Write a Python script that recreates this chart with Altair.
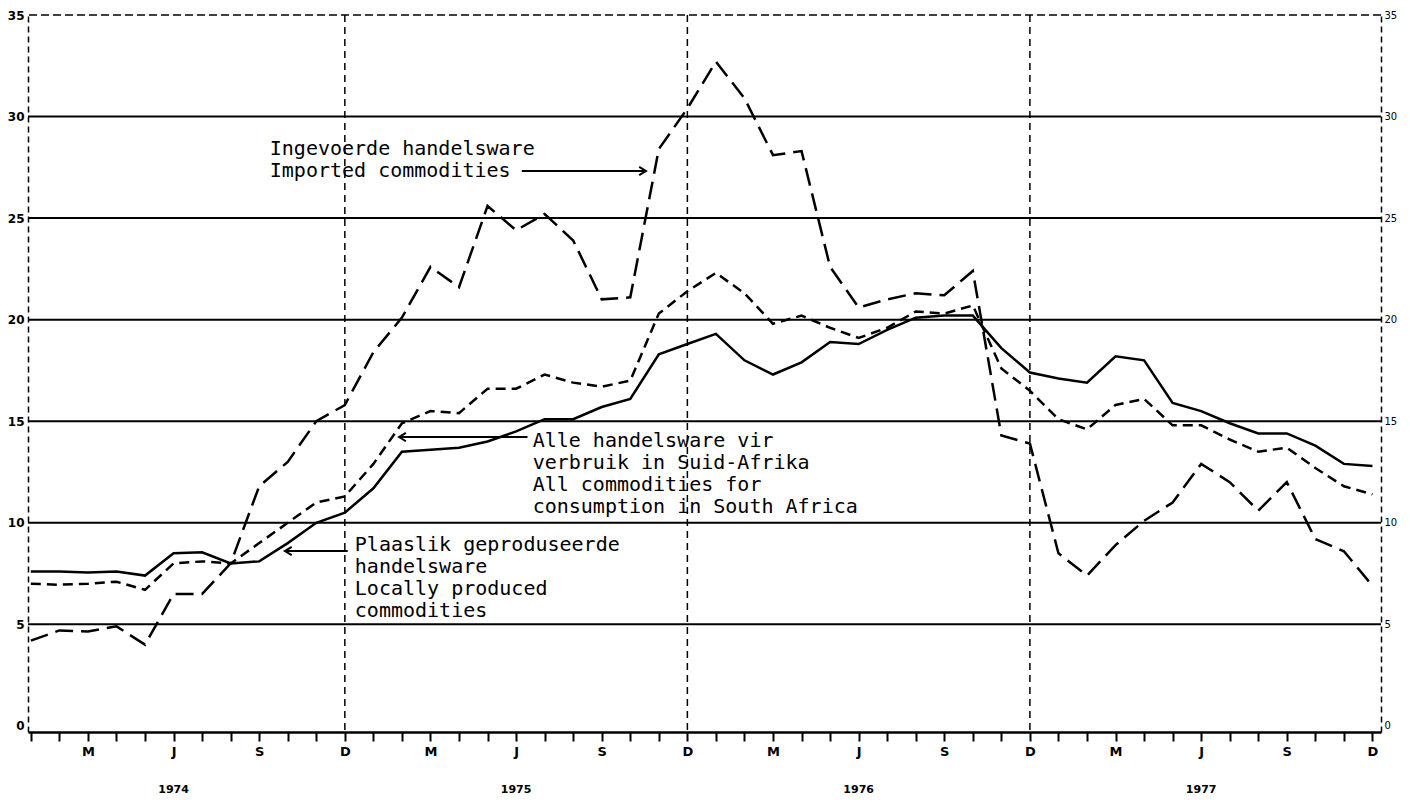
import altair as alt
import pandas as pd

# ---- data ----
months = list(range(48))  # Jan 1974 .. Dec 1977, monthly
local = [7.6, 7.6, 7.55, 7.6, 7.4, 8.5, 8.55, 8.0, 8.1, 9.0, 10.0, 10.5,
         11.7, 13.5, 13.6, 13.7, 14.0, 14.5, 15.1, 15.1, 15.7, 16.1, 18.3, 18.8,
         19.3, 18.0, 17.3, 17.9, 18.9, 18.8, 19.5, 20.1, 20.2, 20.2, 18.6, 17.4,
         17.1, 16.9, 18.2, 18.0, 15.9, 15.5, 14.9, 14.4, 14.4, 13.8, 12.9, 12.8]
allc = [7.0, 6.95, 7.0, 7.1, 6.7, 8.0, 8.1, 8.0, 9.0, 10.0, 11.0, 11.3,
        12.9, 14.9, 15.5, 15.4, 16.6, 16.6, 17.3, 16.9, 16.7, 17.0, 20.3, 21.4,
        22.3, 21.3, 19.8, 20.2, 19.6, 19.1, 19.6, 20.4, 20.3, 20.7, 17.6, 16.5,
        15.1, 14.6, 15.8, 16.1, 14.8, 14.8, 14.1, 13.5, 13.7, 12.7, 11.8, 11.4]
imported = [4.2, 4.7, 4.65, 4.9, 4.0, 6.5, 6.5, 8.0, 11.8, 13.0, 15.0, 15.8,
            18.4, 20.1, 22.6, 21.6, 25.6, 24.4, 25.2, 23.9, 21.0, 21.1, 28.4, 30.4,
            32.7, 30.9, 28.1, 28.3, 22.6, 20.6, 21.0, 21.3, 21.2, 22.4, 14.3, 13.9,
            8.5, 7.4, 8.9, 10.1, 11.0, 12.9, 12.0, 10.6, 12.0, 9.2, 8.6, 6.9]

years = ["1974", "1975", "1976", "1977"]
year_label_month = [5, 17, 29, 41]
year_boundaries = [11, 23, 35]
grid_values = [5, 10, 15, 20, 25, 30]
top_value = [35]
y_ticks = [0, 5, 10, 15, 20, 25, 30, 35]

# annotation texts (month-index / value coordinates)
ann_text = ["Ingevoerde handelsware", "Imported commodities",
            "Alle handelsware vir", "verbruik in Suid-Afrika",
            "All commodities for", "consumption in South Africa",
            "Plaaslik geproduseerde", "handelsware",
            "Locally produced", "commodities"]
ann_x = [8.37, 8.37, 17.58, 17.58, 17.58, 17.58, 11.35, 11.35, 11.35, 11.35]
ann_y = [28.12, 27.0, 13.72, 12.64, 11.56, 10.48, 8.62, 7.54, 6.46, 5.38]

arrow_x1 = [17.2, 17.4, 11.1]
arrow_x2 = [21.55, 12.9, 8.9]
arrow_y = [27.32, 14.22, 8.61]
arrow_dir = ["right", "left", "left"]

# ---- chart ----
W, H = 1353, 717
xs = alt.Scale(domain=[-0.1, 47.3], nice=False, zero=False)
ys = alt.Scale(domain=[-0.3, 35], nice=False, zero=False)

df = pd.DataFrame({"m": months, "local": local, "allc": allc, "imported": imported})

month_expr = ("datum.value % 12 == 2 ? 'M' : datum.value % 12 == 5 ? 'J' : "
              "datum.value % 12 == 8 ? 'S' : datum.value % 12 == 11 ? 'D' : ''")

x_axis = alt.Axis(values=months, labelExpr=month_expr, tickSize=9, tickWidth=2,
                  tickColor="black", domainColor="black", domainWidth=2.5,
                  labelFontSize=13, labelFontWeight="bold", labelFont="DejaVu Sans",
                  labelColor="black", labelPadding=4, labelOverlap=False,
                  labelFlush=False, grid=False, title=None)

left_axis = alt.Axis(values=y_ticks, orient="left", ticks=False, grid=False,
                     domainColor="black", domainDash=[6, 4], domainWidth=1.5,
                     labelFontSize=12, labelFontWeight="bold", labelFont="DejaVu Sans",
                     labelColor="black", labelPadding=4, labelFlush=False, title=None)
right_axis = alt.Axis(values=y_ticks, orient="right", ticks=False, grid=False,
                      domainColor="black", domainDash=[6, 4], domainWidth=1.5,
                      labelFontSize=10, labelFont="DejaVu Sans",
                      labelColor="black", labelPadding=3, labelFlush=False, title=None)


def X(field):
    return alt.X(field, scale=xs, axis=x_axis)


base = alt.Chart(df)

line_local = base.mark_line(color="black", strokeWidth=2.5).encode(
    x=X("m:Q"), y=alt.Y("local:Q", scale=ys, axis=left_axis))
line_all = base.mark_line(color="black", strokeWidth=2.5, strokeDash=[10, 6]).encode(
    x=X("m:Q"), y=alt.Y("allc:Q", scale=ys, axis=None))
line_imp = base.mark_line(color="black", strokeWidth=2.5, strokeDash=[18, 8]).encode(
    x=X("m:Q"), y=alt.Y("imported:Q", scale=ys, axis=None))

grid = alt.Chart(pd.DataFrame({"g": grid_values})).mark_rule(
    color="black", strokeWidth=2).encode(y=alt.Y("g:Q", scale=ys, axis=right_axis))
top = alt.Chart(pd.DataFrame({"g": top_value})).mark_rule(
    color="black", strokeWidth=1.5, strokeDash=[8, 4]).encode(
    y=alt.Y("g:Q", scale=ys, axis=None))
yearlines = alt.Chart(pd.DataFrame({"m": year_boundaries})).mark_rule(
    color="black", strokeWidth=1.5, strokeDash=[7, 5]).encode(x=X("m:Q"))

year_text = alt.Chart(pd.DataFrame({"m": year_label_month, "yt": years})).mark_text(
    font="DejaVu Sans", fontSize=11, fontWeight="bold", color="black",
    baseline="middle", align="center", dy=58).encode(
    x=X("m:Q"), y=alt.value(H), text="yt:N")

ann = alt.Chart(pd.DataFrame({"m": ann_x, "v": ann_y, "t": ann_text})).mark_text(
    font="DejaVu Sans Mono", fontSize=20, color="black", align="left",
    baseline="alphabetic").encode(
    x=X("m:Q"), y=alt.Y("v:Q", scale=ys, axis=None), text="t:N")

arrows_df = pd.DataFrame({"m": arrow_x1, "m2": arrow_x2, "v": arrow_y, "d": arrow_dir})
arrow_lines = alt.Chart(arrows_df).mark_rule(color="black", strokeWidth=2).encode(
    x=X("m:Q"), x2="m2:Q", y=alt.Y("v:Q", scale=ys, axis=None))
heads_r = alt.Chart(arrows_df).transform_filter(alt.datum.d == "right").mark_point(
    shape="M -1.3 -0.8 L 0 0 L -1.3 0.8", filled=False, color="black",
    strokeWidth=2, size=110, opacity=1).encode(
    x=X("m2:Q"), y=alt.Y("v:Q", scale=ys, axis=None))
heads_l = alt.Chart(arrows_df).transform_filter(alt.datum.d == "left").mark_point(
    shape="M 1.3 -0.8 L 0 0 L 1.3 0.8", filled=False, color="black",
    strokeWidth=2, size=110, opacity=1).encode(
    x=X("m2:Q"), y=alt.Y("v:Q", scale=ys, axis=None))

chart = alt.layer(
    line_local, grid, top, yearlines, line_all, line_imp,
    ann, arrow_lines, heads_r, heads_l, year_text
).resolve_axis(y="independent").properties(
    width=W, height=H,
    padding={"left": 20, "top": 7, "right": 21, "bottom": 66},
    autosize=alt.AutoSizeParams(type="none"),
    background="white"
).configure_view(stroke=None)

chart.save("out.html", embed_options={"renderer": "svg", "actions": False})
